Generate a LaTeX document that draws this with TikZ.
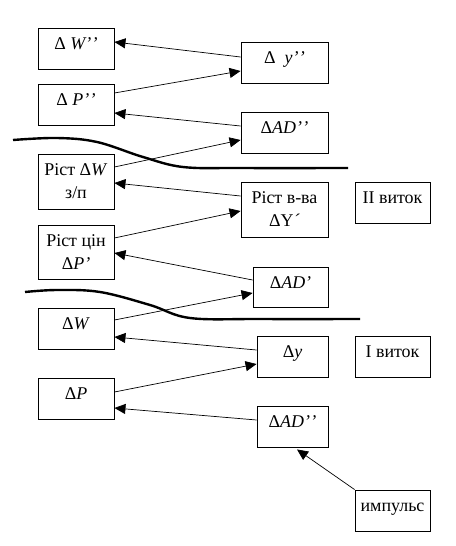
\documentclass[tikz,border=0pt]{standalone}
\usepackage{fontspec}
\setmainfont{Liberation Serif}
\usetikzlibrary{arrows.meta}
\begin{document}
\begin{tikzpicture}[x=1bp,y=-1bp,
  boxbase/.style={draw,line width=0.9bp,inner sep=0pt,align=center,font=\fontsize{18}{23}\selectfont},
  boxL/.style={boxbase,minimum width=76bp},
  boxR/.style={boxbase},
  one/.style={text height=12bp,text depth=10bp},
  conn/.style={line width=0.7bp,-{Triangle[length=11bp,width=10bp]}},
  border/.style={line width=2.4bp}]
\useasboundingbox (0,0) rectangle (456,546);
% left column
\node[boxL,one,minimum height=41bp] (W2) at (76,48.5) {Δ \textit{W’\kern0.5bp’}};
\node[boxL,one,minimum height=41bp] (P2) at (76,104.5) {Δ \textit{P’\kern0.5bp’}};
\node[boxL,minimum height=55bp] (RW) at (76,181.5) {Ріст Δ\textit{W}\\з/п};
\node[boxL,minimum height=54bp] (RP) at (76,252) {Ріст цін\\Δ\textit{P’}};
\node[boxL,one,minimum height=41bp] (W1) at (76,328.5) {Δ\textit{W}};
\node[boxL,one,minimum height=41bp] (P1) at (76,398.5) {Δ\textit{P}};
% right column
\node[boxR,one,minimum width=87bp,minimum height=41bp] (Y2) at (284.5,62.5) {Δ\ \ \textit{y’\kern0.5bp’}};
\node[boxR,one,minimum width=87bp,minimum height=41bp] (AD2) at (284.5,132.5) {Δ\textit{AD’\kern0.5bp’}};
\node[boxR,minimum width=87bp,minimum height=55bp] (RY) at (284.5,209.5) {Ріст в-ва\\ΔY\textit{´}};
\node[boxR,one,minimum width=75bp,minimum height=40bp] (AD1) at (290.5,287) {Δ\textit{AD’}};
\node[boxR,one,minimum width=71bp,minimum height=41bp] (Y1) at (292.5,356.5) {Δ\textit{y}};
\node[boxR,one,minimum width=71bp,minimum height=41bp] (AD0) at (292.5,426.5) {Δ\textit{AD’\kern0.5bp’}};
% far right
\node[boxR,one,minimum width=75bp,minimum height=41bp] (V2) at (392.5,202.5) {II виток};
\node[boxR,one,minimum width=75bp,minimum height=41bp] (V1) at (392.5,356.5) {I виток};
\node[boxR,one,minimum width=75bp,minimum height=41bp] (IM) at (392.5,510.5) {импульс};
% connectors
\draw[conn] ([yshift=5.5bp]Y2.west) -- ([yshift=6.5bp]W2.east);
\draw[conn] ([yshift=11.5bp]P2.east) -- ([yshift=-8.5bp]Y2.west);
\draw[conn] ([yshift=6.5bp]AD2.west) -- ([yshift=-8.5bp]P2.east);
\draw[conn] ([yshift=14.5bp]RW.east) -- ([yshift=-7.5bp]AD2.west);
\draw[conn] ([yshift=13.5bp]RY.west) -- ([yshift=-1.5bp]RW.east);
\draw[conn] ([yshift=14bp]RP.east) -- ([yshift=-1.5bp]RY.west);
\draw[conn] ([yshift=7bp]AD1.west) -- ([yshift=-1bp]RP.east);
\draw[conn] ([yshift=8.5bp]W1.east) -- ([yshift=-6bp]AD1.west);
\draw[conn] ([yshift=6.5bp]Y1.west) -- ([yshift=-8.5bp]W1.east);
\draw[conn] ([yshift=6.5bp]P1.east) -- ([yshift=-7.5bp]Y1.west);
\draw[conn] ([yshift=6.5bp]AD0.west) -- ([yshift=-9.5bp]P1.east);
\draw[conn] (IM.north west) -- ([xshift=4.5bp,yshift=-2bp]AD0.south);
% boundary curves
\draw[border] plot[smooth,tension=0.6] coordinates {(13,140) (57,138) (97,142) (143,157) (183,167) (240,168) (348,168)};
\draw[border] plot[smooth,tension=0.6] coordinates {(25,292) (57,290) (100,292) (150,305) (190,318) (260,319) (360,319)};
\end{tikzpicture}
\end{document}
